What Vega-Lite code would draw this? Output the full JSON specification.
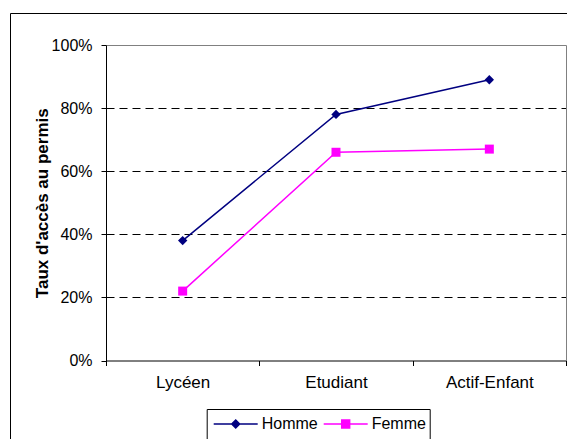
{
  "$schema": "https://vega.github.io/schema/vega-lite/v6.json",
  "width": 557,
  "height": 426,
  "autosize": {"type": "none"},
  "padding": {"left": 10, "top": 13, "right": 0, "bottom": 0},
  "background": "white",
  "config": {
    "font": "Liberation Sans",
    "view": {"stroke": "black", "strokeWidth": 1},
    "axis": {"labelFont": "Liberation Sans", "titleFont": "Liberation Sans", "labelColor": "black", "titleColor": "black"},
    "legend": {"labelFont": "Liberation Sans", "titleFont": "Liberation Sans"}
  },
  "data": {
    "values": [
      {"groupe": "Lycéen", "sexe": "Homme", "taux": 0.38},
      {"groupe": "Etudiant", "sexe": "Homme", "taux": 0.78},
      {"groupe": "Actif-Enfant", "sexe": "Homme", "taux": 0.89},
      {"groupe": "Lycéen", "sexe": "Femme", "taux": 0.22},
      {"groupe": "Etudiant", "sexe": "Femme", "taux": 0.66},
      {"groupe": "Actif-Enfant", "sexe": "Femme", "taux": 0.67}
    ]
  },
  "resolve": {"axis": {"x": "independent", "y": "independent"}},
  "layer": [
    {
      "mark": {"type": "line", "strokeWidth": 1.5},
      "encoding": {
        "x": {
          "field": "groupe", "type": "nominal", "sort": null,
          "scale": {"range": [96, 556], "paddingInner": 0, "paddingOuter": 0},
          "axis": {"orient": "bottom", "offset": -78.5, "tickBand": "extent", "labelAngle": 0, "labelFontSize": 17, "tickSize": 5, "tickColor": "black", "domainColor": "black", "labelPadding": 9, "title": null, "grid": false}
        },
        "y": {
          "field": "taux", "type": "quantitative",
          "scale": {"domain": [0, 1], "range": [347.5, 32], "nice": false},
          "axis": {
            "orient": "left", "offset": -96, "values": [0, 0.2, 0.4, 0.6, 0.8, 1], "format": ".0%",
            "labelFontSize": 16, "tickSize": 5, "tickColor": "black", "domainColor": "black", "labelPadding": 9,
            "grid": true, "gridDash": [8, 5], "gridColor": "black",
            "gridOpacity": {"condition": {"test": "datum.value === 0 || datum.value === 1", "value": 0}, "value": 1},
            "title": "Taux d'accès au permis", "titleFontSize": 17, "titleFontWeight": "bold", "titlePadding": 0
          }
        },
        "color": {
          "field": "sexe", "type": "nominal",
          "scale": {"domain": ["Homme", "Femme"], "range": ["#000080", "#FF00FF"]},
          "legend": {
            "title": " ", "titleOrient": "bottom", "titleFontSize": 8,
            "orient": "none", "legendX": 196.7, "legendY": 396, "direction": "horizontal",
            "strokeColor": "black", "padding": 3, "symbolSize": 484, "symbolOffset": 14, "labelOffset": 14,
            "labelFontSize": 16, "labelColor": "black", "columnPadding": 1, "symbolStrokeWidth": 1.5,
            "encode": {
              "symbols": {
                "update": {
                  "shape": {"signal": "datum.value === 'Homme' ? 'M-2,0H2M0,-0.36L0.36,0L0,0.36L-0.36,0Z' : 'M-2,0H2M-0.36,-0.36H0.36V0.36H-0.36Z'"},
                  "fill": {"signal": "datum.value === 'Homme' ? '#000080' : '#FF00FF'"},
                  "stroke": {"signal": "datum.value === 'Homme' ? '#000080' : '#FF00FF'"},
                  "strokeWidth": {"value": 1.5},
                  "opacity": {"value": 1},
                  "fillOpacity": {"value": 1}
                }
              }
            }
          }
        }
      }
    },
    {
      "transform": [{"filter": "datum.sexe === 'Homme'"}],
      "mark": {"type": "point", "shape": "diamond", "filled": true, "opacity": 1, "strokeWidth": 0, "size": 88, "color": "#000080"},
      "encoding": {
        "x": {
          "field": "groupe", "type": "nominal", "sort": null,
          "scale": {"range": [96, 556], "paddingInner": 0, "paddingOuter": 0},
          "axis": {"orient": "top", "offset": -32, "ticks": false, "labels": false, "title": null, "grid": false, "domainColor": "#808080"}
        },
        "y": {
          "field": "taux", "type": "quantitative",
          "scale": {"domain": [0, 1], "range": [347.5, 32], "nice": false},
          "axis": {"orient": "right", "offset": -1, "ticks": false, "labels": false, "title": null, "grid": false, "domainColor": "#808080"}
        }
      }
    },
    {
      "transform": [{"filter": "datum.sexe === 'Femme'"}],
      "mark": {"type": "point", "shape": "square", "filled": true, "opacity": 1, "strokeWidth": 0, "size": 81, "color": "#FF00FF"},
      "encoding": {
        "x": {"field": "groupe", "type": "nominal", "sort": null, "axis": null},
        "y": {"field": "taux", "type": "quantitative", "axis": null}
      }
    }
  ]
}
